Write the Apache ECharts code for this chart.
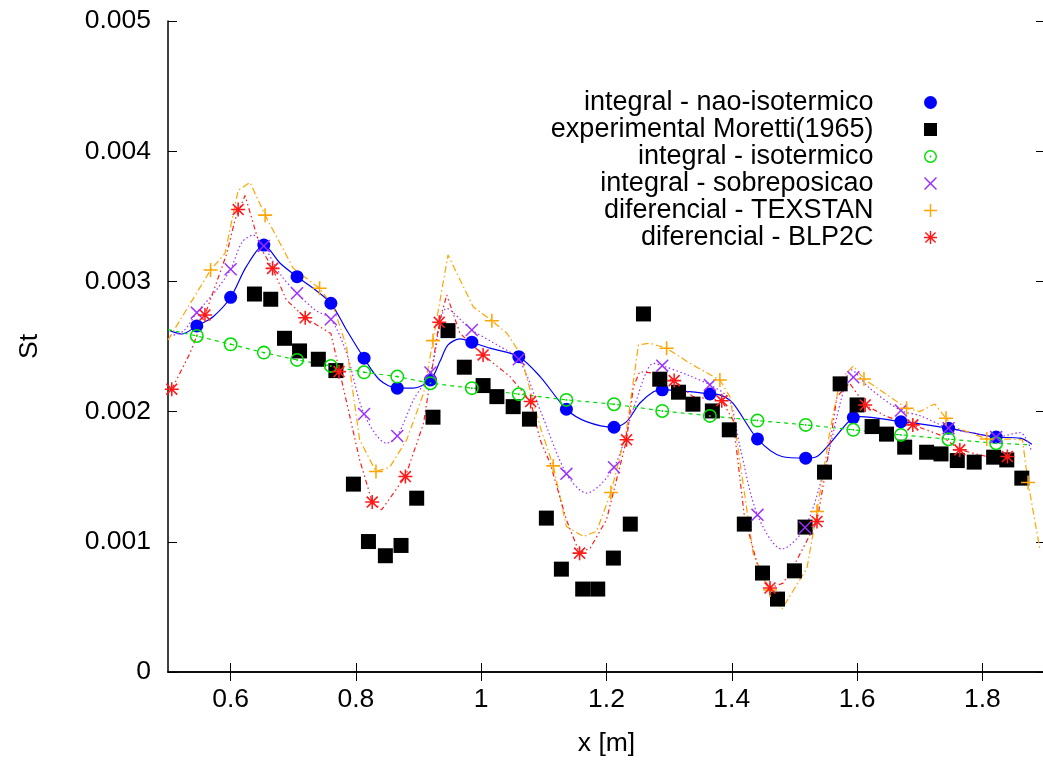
<!DOCTYPE html>
<html>
<head>
<meta charset="utf-8">
<script src="https://cdn.jsdelivr.net/npm/echarts@6/dist/echarts.min.js"></script>
<style>
  html, body { margin: 0; padding: 0; background: #fff; }
  #chart { width: 1043px; height: 760px; }
</style>
</head>
<body>
<div id="chart"></div>
<script>
// tick positions
const xTicks = [0.6, 0.8, 1, 1.2, 1.4, 1.6, 1.8];

// integral - nao-isotermico (markers + curve)
const naoPoints = [[0.546,0.002658],[0.600,0.002878],[0.653,0.003279],[0.706,0.003036],[0.760,0.002832],[0.813,0.002410],[0.866,0.002180],[0.919,0.002243],[0.985,0.002533],[1.060,0.002422],[1.136,0.002018],[1.212,0.001880],[1.289,0.002167],[1.365,0.002136],[1.441,0.001790],[1.518,0.001642],[1.594,0.001954],[1.670,0.001923],[1.746,0.001873],[1.822,0.001804]];
const naoCurve = [[0.503,0.002622],[0.522,0.002596],[0.546,0.002658],[0.572,0.002729],[0.600,0.002878],[0.625,0.003113],[0.653,0.003279],[0.679,0.003139],[0.706,0.003036],[0.732,0.002947],[0.760,0.002832],[0.785,0.002627],[0.813,0.002410],[0.838,0.002243],[0.866,0.002180],[0.891,0.002180],[0.919,0.002243],[0.934,0.002384],[0.947,0.002512],[0.966,0.002558],[0.985,0.002533],[1.014,0.002487],[1.060,0.002422],[1.094,0.002269],[1.136,0.002018],[1.168,0.001923],[1.212,0.001880],[1.232,0.001923],[1.253,0.002064],[1.275,0.002153],[1.289,0.002167],[1.333,0.002153],[1.365,0.002136],[1.381,0.002128],[1.402,0.002064],[1.441,0.001790],[1.480,0.001655],[1.518,0.001642],[1.536,0.001655],[1.557,0.001757],[1.594,0.001954],[1.605,0.001962],[1.670,0.001923],[1.700,0.001906],[1.746,0.001873],[1.786,0.001834],[1.822,0.001804],[1.860,0.001796],[1.879,0.001750]];

// experimental Moretti(1965)
const expPoints = [[0.638,0.002903],[0.664,0.002863],[0.686,0.002563],[0.710,0.002466],[0.740,0.002402],[0.768,0.002315],[0.796,0.001443],[0.820,0.001002],[0.847,0.000893],[0.872,0.000972],[0.897,0.001335],[0.923,0.001957],[0.947,0.002622],[0.973,0.002341],[1.003,0.002200],[1.025,0.002115],[1.051,0.002038],[1.077,0.001942],[1.104,0.001182],[1.128,0.000790],[1.162,0.000637],[1.186,0.000637],[1.211,0.000875],[1.238,0.001136],[1.259,0.002750],[1.285,0.002249],[1.315,0.002149],[1.338,0.002057],[1.369,0.002005],[1.396,0.001860],[1.420,0.001136],[1.449,0.000760],[1.473,0.000560],[1.500,0.000777],[1.517,0.001113],[1.548,0.001535],[1.573,0.002213],[1.600,0.002051],[1.624,0.001885],[1.647,0.001827],[1.676,0.001727],[1.711,0.001688],[1.734,0.001675],[1.760,0.001624],[1.787,0.001612],[1.818,0.001650],[1.839,0.001629],[1.863,0.001489]];

// integral - isotermico
const isoPoints = [[0.546,0.002581],[0.600,0.002517],[0.653,0.002453],[0.706,0.002397],[0.760,0.002351],[0.813,0.002302],[0.866,0.002269],[0.919,0.002218],[0.985,0.002180],[1.060,0.002134],[1.136,0.002090],[1.212,0.002057],[1.289,0.002005],[1.365,0.001967],[1.441,0.001931],[1.518,0.001898],[1.594,0.001860],[1.670,0.001821],[1.746,0.001788],[1.822,0.001757]];
const isoCurve = [[0.500,0.002630],[0.546,0.002581],[0.600,0.002517],[0.653,0.002453],[0.706,0.002397],[0.760,0.002351],[0.813,0.002302],[0.866,0.002269],[0.919,0.002218],[0.985,0.002180],[1.060,0.002134],[1.136,0.002090],[1.212,0.002057],[1.289,0.002005],[1.365,0.001967],[1.441,0.001931],[1.518,0.001898],[1.594,0.001860],[1.670,0.001821],[1.746,0.001788],[1.822,0.001757],[1.876,0.001745]];

// integral - sobreposicao
const sobPoints = [[0.546,0.002760],[0.600,0.003093],[0.653,0.003272],[0.706,0.002909],[0.760,0.002709],[0.813,0.001982],[0.866,0.001813],[0.919,0.002300],[0.985,0.002627],[1.060,0.002402],[1.136,0.001522],[1.212,0.001573],[1.289,0.002353],[1.365,0.002205],[1.441,0.001207],[1.517,0.001110],[1.594,0.002264],[1.670,0.002008],[1.746,0.001873],[1.822,0.001804]];
const sobCurve = [[0.503,0.002580],[0.525,0.002620],[0.546,0.002760],[0.575,0.002920],[0.600,0.003093],[0.618,0.003300],[0.636,0.003356],[0.653,0.003272],[0.680,0.003050],[0.706,0.002909],[0.735,0.002780],[0.760,0.002709],[0.785,0.002450],[0.813,0.001982],[0.849,0.001757],[0.866,0.001813],[0.893,0.002100],[0.919,0.002300],[0.945,0.002793],[0.985,0.002627],[1.030,0.002500],[1.060,0.002402],[1.095,0.002000],[1.136,0.001522],[1.168,0.001374],[1.212,0.001573],[1.245,0.002050],[1.275,0.002371],[1.289,0.002353],[1.330,0.002280],[1.365,0.002205],[1.395,0.002100],[1.413,0.001731],[1.441,0.001207],[1.480,0.000944],[1.517,0.001110],[1.550,0.001600],[1.575,0.002100],[1.591,0.002320],[1.620,0.002180],[1.670,0.002008],[1.700,0.001970],[1.746,0.001873],[1.790,0.001830],[1.822,0.001804],[1.860,0.001839],[1.879,0.001693]];

// diferencial - TEXSTAN
const texPoints = [[0.568,0.003088],[0.655,0.003509],[0.742,0.002947],[0.832,0.001540],[0.923,0.002545],[1.017,0.002698],[1.115,0.001583],[1.207,0.001378],[1.296,0.002487],[1.381,0.002243],[1.461,0.000630],[1.536,0.001233],[1.611,0.002251],[1.679,0.002026],[1.742,0.001949],[1.807,0.001790],[1.873,0.001455]];
const texCurve = [[0.500,0.002550],[0.568,0.003088],[0.591,0.003216],[0.612,0.003700],[0.631,0.003760],[0.655,0.003509],[0.700,0.003100],[0.742,0.002947],[0.764,0.002806],[0.785,0.002499],[0.806,0.001783],[0.832,0.001540],[0.854,0.001573],[0.881,0.001783],[0.908,0.002141],[0.923,0.002545],[0.947,0.003203],[0.987,0.002806],[1.017,0.002698],[1.041,0.002602],[1.062,0.002448],[1.094,0.001885],[1.115,0.001583],[1.136,0.001117],[1.163,0.001041],[1.184,0.001079],[1.207,0.001378],[1.232,0.001860],[1.251,0.002512],[1.269,0.002525],[1.296,0.002487],[1.333,0.002371],[1.371,0.002269],[1.381,0.002243],[1.397,0.002115],[1.408,0.001783],[1.434,0.000913],[1.461,0.000606],[1.480,0.000483],[1.520,0.000798],[1.536,0.001233],[1.557,0.001860],[1.573,0.002243],[1.594,0.002351],[1.611,0.002251],[1.679,0.002026],[1.700,0.002000],[1.724,0.002059],[1.742,0.001949],[1.754,0.001885],[1.807,0.001790],[1.850,0.001788],[1.864,0.001783],[1.873,0.001455],[1.892,0.000939]];

// diferencial - BLP2C
const blpPoints = [[0.506,0.002172],[0.559,0.002742],[0.612,0.003552],[0.667,0.003100],[0.719,0.002721],[0.773,0.002307],[0.826,0.001305],[0.879,0.001501],[0.933,0.002686],[1.003,0.002435],[1.079,0.002077],[1.157,0.000913],[1.232,0.001783],[1.308,0.002238],[1.384,0.002084],[1.461,0.000645],[1.536,0.001156],[1.613,0.002051],[1.689,0.001898],[1.764,0.001706],[1.840,0.001655]];
const blpCurve = [[0.506,0.002172],[0.535,0.002448],[0.559,0.002742],[0.594,0.003216],[0.607,0.003473],[0.623,0.003660],[0.647,0.003266],[0.667,0.003100],[0.689,0.002857],[0.719,0.002721],[0.742,0.002652],[0.760,0.002600],[0.777,0.002243],[0.806,0.001629],[0.826,0.001305],[0.841,0.001246],[0.879,0.001501],[0.908,0.001911],[0.933,0.002686],[0.945,0.002896],[0.966,0.002602],[1.003,0.002435],[1.046,0.002269],[1.079,0.002077],[1.094,0.001783],[1.110,0.001604],[1.136,0.001169],[1.157,0.000913],[1.174,0.000952],[1.200,0.001169],[1.232,0.001783],[1.243,0.002192],[1.253,0.002307],[1.275,0.002295],[1.308,0.002238],[1.338,0.002115],[1.384,0.002084],[1.402,0.001936],[1.420,0.001200],[1.445,0.000750],[1.461,0.000645],[1.482,0.000683],[1.504,0.000862],[1.536,0.001156],[1.552,0.001604],[1.568,0.002115],[1.588,0.002218],[1.613,0.002051],[1.647,0.001962],[1.689,0.001898],[1.732,0.001821],[1.764,0.001706],[1.807,0.001655],[1.840,0.001655]];

const names = [
  'integral - nao-isotermico',
  'experimental Moretti(1965)',
  'integral - isotermico',
  'integral - sobreposicao',
  'diferencial - TEXSTAN',
  'diferencial - BLP2C'
];

// gnuplot-like point shapes
const SQUARE = 'path://M0,0L10,0L10,10L0,10Z';
const RING = 'path://M0,5A5,5,0,1,1,10,5A5,5,0,1,1,0,5ZM1.1,5A3.9,3.9,0,1,0,8.9,5A3.9,3.9,0,1,0,1.1,5ZM4.3,5A0.7,0.7,0,1,1,5.7,5A0.7,0.7,0,1,1,4.3,5Z';
const CROSS = 'path://M0,0.8L0.8,0L5,4.2L9.2,0L10,0.8L5.8,5L10,9.2L9.2,10L5,5.8L0.8,10L0,9.2L4.2,5Z';
const PLUS = 'path://M4.45,0L5.55,0L5.55,4.45L10,4.45L10,5.55L5.55,5.55L5.55,10L4.45,10L4.45,5.55L0,5.55L0,4.45L4.45,4.45Z';
const STAR = PLUS + 'M0.7,1.5L1.5,0.7L5,4.2L8.5,0.7L9.3,1.5L5.8,5L9.3,8.5L8.5,9.3L5,5.8L1.5,9.3L0.7,8.5L4.2,5Z';

const chart = echarts.init(document.getElementById('chart'));

function pts(name, data, symbol, size, color) {
  return { name, type: 'scatter', data, symbol, symbolSize: size,
    itemStyle: { color, opacity: 1 }, emphasis: { disabled: true }, z: 3 };
}
function curve(data, color, type, smooth) {
  return { type: 'line', data, showSymbol: false, symbol: 'none', smooth,
    lineStyle: { color, width: 1.2, type }, emphasis: { disabled: true }, z: 2 };
}

const font = 'Liberation Sans, Arial, sans-serif';

const option = {
  animation: false,
  backgroundColor: '#fff',
  grid: { left: 168, top: 21, right: -2, bottom: 88, outerBoundsMode: 'none' },
  legend: {
    data: names,
    orient: 'vertical',
    right: 101,
    top: 84,
    align: 'right',
    itemWidth: 104,
    itemHeight: 13,
    itemGap: 0,
    selectedMode: false,
    textStyle: { fontFamily: font, fontSize: 27, color: '#000', lineHeight: 26 }
  },
  xAxis: [
    {
      type: 'value', min: 0.5, max: 1.9,
      name: 'x [m]', nameLocation: 'middle', nameGap: 58,
      nameTextStyle: { fontFamily: font, fontSize: 26.5, color: '#000' },
      axisLine: { lineStyle: { color: '#000', width: 1.5 } },
      axisTick: { inside: true, length: 9, customValues: xTicks, lineStyle: { color: '#000', width: 1 } },
      axisLabel: { customValues: xTicks, margin: 14, fontFamily: font, fontSize: 26.5, color: '#000' },
      splitLine: { show: false }
    },
    {
      type: 'value', min: 0.5, max: 1.9, position: 'top',
      axisLine: { lineStyle: { color: '#000', width: 1.5 } },
      axisTick: { inside: true, length: 9, customValues: xTicks, lineStyle: { color: '#000', width: 1 } },
      axisLabel: { show: false },
      splitLine: { show: false }
    }
  ],
  yAxis: [
    {
      type: 'value', min: 0, max: 0.005, interval: 0.001,
      name: 'St', nameLocation: 'middle', nameGap: 125,
      nameTextStyle: { fontFamily: font, fontSize: 26.5, color: '#000' },
      axisLine: { show: true, lineStyle: { color: '#000', width: 1.5 } },
      axisTick: { show: true, inside: true, length: 9, lineStyle: { color: '#000', width: 1 } },
      axisLabel: { margin: 17, fontFamily: font, fontSize: 26.5, color: '#000' },
      splitLine: { show: false }
    },
    {
      type: 'value', min: 0, max: 0.005, interval: 0.001, position: 'right',
      axisLine: { show: true, lineStyle: { color: '#000', width: 1.5 } },
      axisTick: { show: true, inside: true, length: 9, lineStyle: { color: '#000', width: 1 } },
      axisLabel: { show: false },
      splitLine: { show: false }
    }
  ],
  series: [
    pts(names[0], naoPoints, 'circle', 13, '#0000ff'),
    curve(naoCurve, '#0000ff', 'solid', 0.3),
    pts(names[1], expPoints, SQUARE, 15, '#000000'),
    pts(names[2], isoPoints, RING, 14, '#00dd00'),
    curve(isoCurve, '#00dd00', [4, 4], false),
    pts(names[3], sobPoints, CROSS, 13, '#9b30ff'),
    curve(sobCurve, '#9b30ff', [1.5, 2.5], 0.3),
    pts(names[4], texPoints, PLUS, 14, '#ffa500'),
    curve(texCurve, '#ffa500', [7, 3, 1.5, 3], false),
    pts(names[5], blpPoints, STAR, 14, '#ff1a1a'),
    curve(blpCurve, '#ff1a1a', [5, 3, 1.5, 3, 1.5, 3], false)
  ]
};

chart.setOption(option);
</script>
</body>
</html>
